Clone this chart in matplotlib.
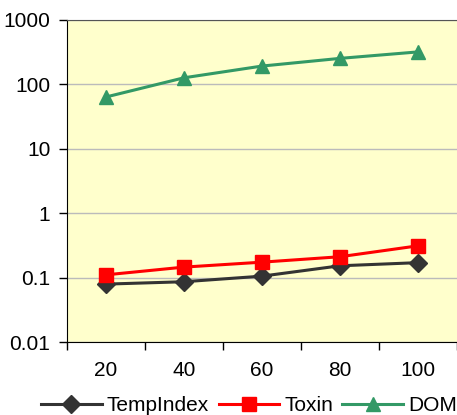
import matplotlib
matplotlib.use('Agg')
import matplotlib.pyplot as plt
import numpy as np

plt.rcParams['font.family'] = ['Liberation Sans', 'DejaVu Sans']

# data
cats = ['20', '40', '60', '80', '100']
temp_index = [0.079, 0.086, 0.105, 0.152, 0.17]
toxin = [0.11, 0.145, 0.173, 0.21, 0.31]
dom = [63, 125, 190, 250, 315]

fig = plt.figure(figsize=(4.57, 4.15), dpi=100, facecolor='w')
ax = fig.add_axes([0.1466, 0.1759, 0.8534, 0.777])
ax.set_facecolor('#FFFFCC')

x = np.arange(len(cats))
ax.plot(x, temp_index, color='#333333', lw=2.2, marker='D', ms=9, label='TempIndex')
ax.plot(x, toxin, color='#FF0000', lw=2.2, marker='s', ms=10, label='Toxin')
ax.plot(x, dom, color='#339966', lw=2.2, marker='^', ms=10.5, label='DOM')

ax.set_yscale('log')
ax.set_ylim(0.01, 1000)
ax.set_yticks([0.01, 0.1, 1, 10, 100, 1000])
ax.set_yticklabels(['0.01', '0.1', '1', '10', '100', '1000'])
ax.yaxis.set_minor_locator(matplotlib.ticker.NullLocator())
ax.grid(axis='y', color='#BBBBBB', lw=1)

ax.set_xlim(-0.5, len(cats) - 0.5)
ax.set_xticks(np.arange(len(cats) + 1) - 0.5)
ax.set_xticklabels([])
ax.set_xticks(x, minor=True)
ax.set_xticklabels(cats, minor=True)
ax.tick_params(axis='x', which='minor', length=0, pad=14, labelsize=15)
ax.tick_params(axis='x', which='major', length=6, width=1, direction='out')
ax.tick_params(axis='y', length=6, width=1, labelsize=15, pad=6)

ax.spines['left'].set_color('black')
ax.spines['bottom'].set_color('black')
ax.spines['top'].set_color('#555555')
ax.spines['right'].set_visible(False)

fig.legend(loc='lower center', bbox_to_anchor=(0.545, -0.045), ncol=3, frameon=False,
           fontsize=15, handlelength=2.9, handletextpad=0.25, columnspacing=0.45)

fig.savefig('out.png', dpi=100)
